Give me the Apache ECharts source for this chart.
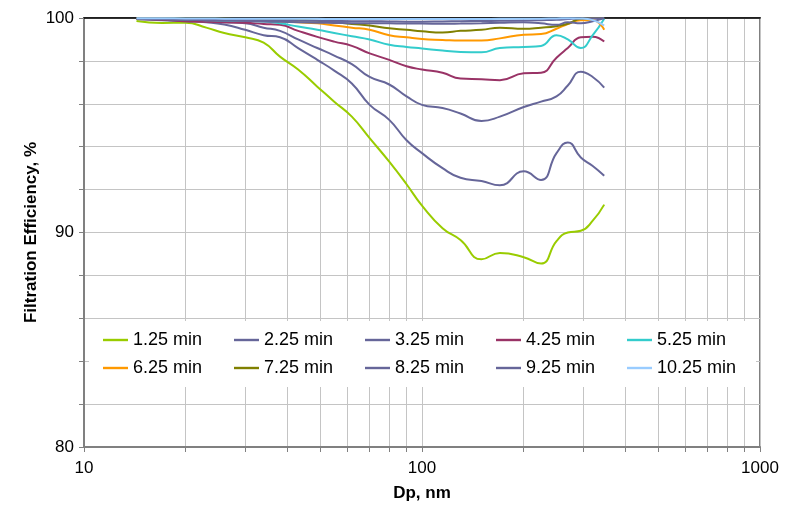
<!DOCTYPE html>
<html>
<head>
<meta charset="utf-8">
<script src="https://cdn.jsdelivr.net/npm/echarts@6/dist/echarts.min.js"></script>
<style>
html,body{margin:0;padding:0;background:#fff;}
#chart{width:790px;height:510px;}
</style>
</head>
<body>
<div id="chart"></div>
<script>
// Particle diameter, nm
const dp = [14.3, 17, 20, 23, 26, 30, 34, 38, 43, 49, 55, 62, 70, 80, 90, 100, 115, 130, 150, 170, 200, 225, 250, 270, 295, 320, 346];

const seriesNames = ['1.25 min','2.25 min','3.25 min','4.25 min','5.25 min','6.25 min','7.25 min','8.25 min','9.25 min','10.25 min'];

const eff125 = [99.86, 99.77, 99.78, 99.55, 99.3, 99.1, 98.85, 98.2, 97.6, 96.8, 96.1, 95.4, 94.4, 93.3, 92.25, 91.25, 90.2, 89.65, 88.75, 89.05, 88.85, 88.55, 89.6, 90.0, 90.08, 90.55, 91.3];
const eff225 = [99.95, 99.9, 99.85, 99.8, 99.7, 99.45, 99.2, 99.1, 98.6, 98.05, 97.55, 96.95, 95.95, 95.25, 94.3, 93.7, 93.0, 92.55, 92.4, 92.2, 92.85, 92.45, 93.7, 94.2, 93.5, 93.1, 92.65];
const eff325 = [99.95, 99.92, 99.88, 99.85, 99.8, 99.75, 99.55, 99.4, 99.0, 98.6, 98.25, 97.85, 97.25, 96.9, 96.35, 95.95, 95.8, 95.55, 95.2, 95.4, 95.85, 96.1, 96.35, 96.85, 97.5, 97.25, 96.75];
const eff425 = [99.95, 99.92, 99.85, 99.82, 99.8, 99.78, 99.72, 99.68, 99.4, 99.12, 98.9, 98.7, 98.35, 98.05, 97.75, 97.6, 97.45, 97.18, 97.15, 97.1, 97.42, 97.45, 98.15, 98.6, 99.1, 99.13, 98.9];
const eff525 = [99.97, 99.95, 99.93, 99.9, 99.88, 99.87, 99.84, 99.75, 99.6, 99.45, 99.3, 99.15, 99.0, 98.75, 98.65, 98.58, 98.48, 98.42, 98.4, 98.6, 98.65, 98.7, 99.2, 99.0, 98.6, 99.2, 99.97];
const eff625 = [99.97, 99.96, 99.95, 99.93, 99.92, 99.9, 99.89, 99.85, 99.8, 99.75, 99.65, 99.55, 99.45, 99.2, 99.1, 99.02, 98.98, 98.95, 98.95, 99.05, 99.22, 99.25, 99.5, 99.72, 99.9, 99.9, 99.45];
const eff725 = [99.98, 99.98, 99.97, 99.97, 99.96, 99.95, 99.94, 99.92, 99.9, 99.87, 99.8, 99.72, 99.65, 99.52, 99.45, 99.38, 99.32, 99.4, 99.45, 99.55, 99.5, 99.55, 99.62, 99.73, 99.97, 100, 100];
const eff825 = [99.97, 99.96, 99.95, 99.94, 99.93, 99.92, 99.9, 99.9, 99.88, 99.87, 99.86, 99.85, 99.85, 99.84, 99.83, 99.83, 99.84, 99.85, 99.86, 99.87, 99.88, 99.9, 99.92, 99.95, 99.98, 99.99, 99.99];
const eff925 = [99.96, 99.94, 99.92, 99.9, 99.88, 99.86, 99.84, 99.82, 99.8, 99.78, 99.77, 99.76, 99.76, 99.75, 99.74, 99.74, 99.73, 99.74, 99.76, 99.78, 99.8, 99.75, 99.68, 99.8, 99.75, 99.85, 100];
const eff1025 = [99.99, 99.99, 99.98, 99.98, 99.97, 99.97, 99.97, 99.96, 99.96, 99.96, 99.95, 99.95, 99.95, 99.95, 99.95, 99.95, 99.95, 99.95, 99.95, 99.96, 99.96, 99.97, 99.98, 99.99, 99.98, 99.9, 99.65];

const xTickValues = [10,20,30,40,50,60,70,80,90,100,200,300,400,500,600,700,800,900,1000];
const xLabelValues = [10, 100, 1000];

const colors = ['#99CC00','#666699','#666699','#993366','#33CCCC','#FF9900','#808000','#666699','#666699','#99CCFF'];
const allData = [eff125, eff225, eff325, eff425, eff525, eff625, eff725, eff825, eff925, eff1025];

const FONT = 'Liberation Sans, Arial, sans-serif';
const chart = echarts.init(document.getElementById('chart'), null, {renderer: 'canvas'});

const series = seriesNames.map((name, i) => ({
  name: name,
  type: 'line',
  data: dp.map((x, j) => [x, allData[i][j]]),
  smooth: 0.5,
  symbol: 'none',
  showSymbol: false,
  lineStyle: {width: 2, color: colors[i]},
  itemStyle: {color: colors[i]},
  z: 3 + i
}));

chart.setOption({
  animation: false,
  backgroundColor: '#ffffff',
  color: colors,
  textStyle: {fontFamily: FONT, color: '#000'},
  grid: {
    left: 84, right: 30, top: 18, bottom: 63,
    show: true, borderColor: '#808080', borderWidth: 2, backgroundColor: 'transparent'
  },
  legend: {
    data: seriesNames,
    left: 89, top: 321, width: 655,
    padding: [10, 8, 10, 14],
    backgroundColor: '#ffffff',
    itemWidth: 25, itemHeight: 12, itemGap: 10,
    icon: 'path://M0,0 L25,0 L25,2.4 L0,2.4 Z',
    formatter: name => '{a|' + name + '}',
    textStyle: {
      fontFamily: FONT, fontSize: 18, color: '#000',
      rich: {a: {width: 91, lineHeight: 21, fontSize: 18, fontFamily: FONT, color: '#000'}}
    },
    z: 20
  },
  xAxis: [{
    type: 'log', logBase: 10, min: 10, max: 1000,
    name: 'Dp, nm', nameLocation: 'middle', nameGap: 38, nameMoveOverlap: false,
    nameTextStyle: {fontFamily: FONT, fontSize: 17, fontWeight: 'bold', color: '#000'},
    axisLine: {show: true, onZero: false, lineStyle: {color: '#808080', width: 2}},
    axisTick: {show: true, inside: false, length: 5, customValues: xTickValues, lineStyle: {color: '#808080', width: 1}},
    axisLabel: {show: true, margin: 13, fontSize: 17, fontFamily: FONT, color: '#000', customValues: xLabelValues,
      formatter: v => String(Math.round(v))},
    splitLine: {show: true, lineStyle: {color: '#c4c4c4', width: 1}}
  }, {
    type: 'log', logBase: 10, min: 10, max: 1000, position: 'top',
    axisLine: {show: true, onZero: false, lineStyle: {color: '#000', width: 1.5}},
    axisTick: {show: false}, axisLabel: {show: false}, splitLine: {show: false}
  }],
  yAxis: {
    type: 'value', min: 80, max: 100, interval: 2,
    name: 'Filtration Efficiency, %', nameLocation: 'middle', nameGap: 44, nameRotate: 90,
    nameMoveOverlap: false,
    nameTextStyle: {fontFamily: FONT, fontSize: 17, fontWeight: 'bold', color: '#000'},
    axisLine: {show: true, onZero: false, lineStyle: {color: '#808080', width: 2}},
    axisTick: {show: true, inside: false, length: 5, lineStyle: {color: '#808080', width: 1}},
    axisLabel: {
      margin: 10, fontSize: 17, fontFamily: FONT, color: '#000',
      formatter: v => (v % 10 === 0 ? String(v) : '')
    },
    splitLine: {show: true, lineStyle: {color: '#c4c4c4', width: 1}}
  },
  series: series
});
</script>
</body>
</html>
